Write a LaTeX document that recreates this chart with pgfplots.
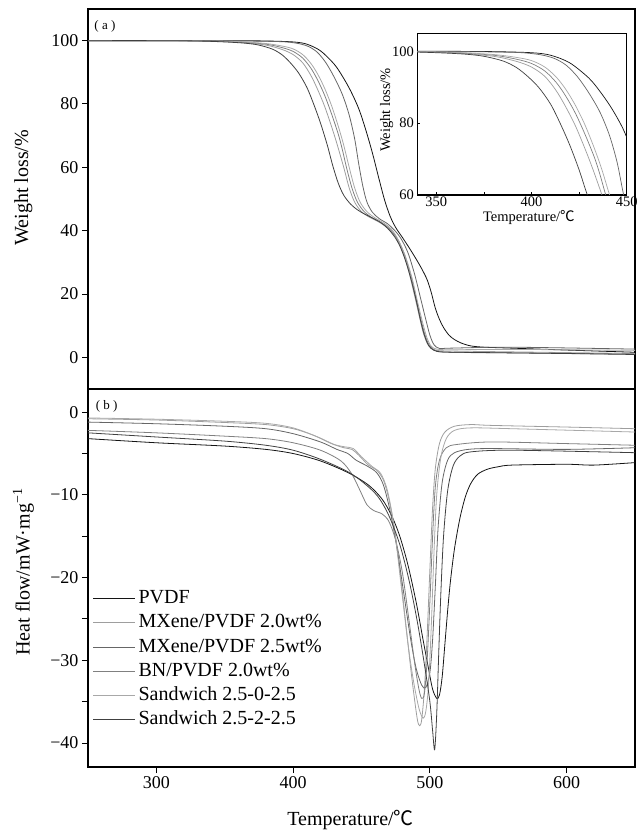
\documentclass[border=0pt]{standalone}
\usepackage{fontspec}
\setmainfont{Liberation Serif}
\newfontfamily\cjk{Noto Sans CJK SC}
\usepackage{pgfplots}
\pgfplotsset{compat=1.18}
\usepackage{pgfplotstable}

\definecolor{cP}{gray}{0.08}
\definecolor{cM20}{gray}{0.62}
\definecolor{cM25}{gray}{0.40}
\definecolor{cBN}{gray}{0.50}
\definecolor{cS0}{gray}{0.66}
\definecolor{cS2}{gray}{0.25}

% ---------------- TGA data ----------------
\pgfplotstableread{
T W
250 100
300 100
350 100
380 99.9
400 99.6
410 98.9
420 96.8
430 92.6
436 88.8
442 84.2
448 78.5
453 72
458 64.5
463 56
467 49.5
471 44.5
475 41
480 37.8
485 34.5
490 31
494 28
498 24.5
501 20.5
504 15.5
507 12
510 9.4
514 7
518 5.6
523 4.5
530 3.6
540 3.2
560 2.9
600 2.3
650 1.6
}\tgaP

\pgfplotstableread{
T W
250 100
300 100
340 99.8
360 99.5
380 98.6
392 97.2
400 95.6
407 93
413 89
418 84.5
423 79.3
428 73
432 67.5
437 60
441 53.5
445 49
450 46
456 44.2
462 42.9
468 41.2
474 38.6
479 34.5
484 28
488 21
492 13.5
495 8
498 4.5
501 2.8
507 2.1
530 1.9
600 1.5
650 1.2
}\tgaMa

\pgfplotstableread{
T W
250 100
300 100
360 99.9
380 99.8
395 99.6
405 99
412 98
418 96.2
424 93
430 88.5
436 83
441 76.5
445 69
448 61
451 54
454 49
458 45.8
463 43.8
469 42.2
474 40.2
479 37.4
484 33
489 26
493 19
497 12
500 7
503 4
507 2.8
515 2.9
560 3.2
650 2.6
}\tgaMb

\pgfplotstableread{
T W
250 100
300 100
340 99.9
360 99.6
380 98.9
392 97.8
400 96.6
407 94.5
413 91.3
418 87.5
423 82.8
428 77
433 70.5
436 65.6
439 60
443 53.5
447 49
452 46
458 44
464 42.6
470 40.8
476 37.6
481 33
486 26
490 18.5
494 11
497 6.3
500 3.6
504 2.2
512 1.6
560 1.4
650 1.0
}\tgaBN

\pgfplotstableread{
T W
250 100
300 100
340 99.9
360 99.7
380 99.1
392 98.3
400 97.4
407 95.6
413 92.8
418 89.4
423 85
428 79.6
433 73
437 67
441 60
445 53.5
449 49
454 46
460 44
466 42.5
472 40.4
477 37
482 32
487 25
491 17.5
495 10.5
498 6
501 3.5
505 2.6
515 2.4
560 2.5
650 2.2
}\tgaSa

\pgfplotstableread{
T W
250 100
300 100
330 99.9
350 99.6
365 99.2
375 98.6
385 97.3
392 95.5
398 93
404 89.8
410 85.3
415 80
420 74
425 67
429 60.5
433 55
437 51.2
442 48.4
447 46.6
452 45.3
458 44
464 42.6
469 40.8
474 38.2
478 35.2
482 30.8
486 25
490 18
493 12
496 7
499 3.8
503 2.2
510 1.7
540 1.5
600 1.2
650 0.9
}\tgaSb

% ---------------- DSC data ----------------
\pgfplotstableread{
T H
250 -3.2
300 -3.7
350 -4.1
380 -4.5
400 -5.0
420 -5.9
440 -7.3
455 -8.8
465 -10.5
472 -12.5
478 -15
484 -18.5
490 -23
495 -27.5
499 -31
502 -33.5
505 -34.6
507 -34.2
509 -32
511 -28
513 -24
515 -20.5
518 -16.5
522 -12.8
526 -10.2
530 -8.6
535 -7.5
542 -6.9
550 -6.6
560 -6.4
600 -6.3
620 -6.4
650 -6.1
}\dscP

\pgfplotstableread{
T H
250 -0.8
300 -0.95
350 -1.25
380 -1.5
400 -2.0
415 -2.8
428 -3.8
437 -4.3
443 -4.5
448 -5.2
455 -6.4
461 -7.0
466 -8.2
470 -10.5
474 -14
478 -19
482 -25
486 -31
489 -35
491 -37.3
492.5 -37.9
494 -37.2
496 -33.5
498 -27
500 -19
502 -11.5
504 -6.8
507 -3.8
511 -2.4
518 -1.7
530 -1.5
545 -1.6
600 -1.8
650 -2.0
}\dscMa

\pgfplotstableread{
T H
250 -1.2
300 -1.4
350 -1.7
380 -2.0
400 -2.6
420 -3.6
432 -4.5
440 -5.0
446 -5.8
454 -6.5
461 -7.3
466 -8.8
471 -12
476 -16.5
481 -22
486 -27.5
490 -31
494 -33
497 -33.3
500 -31.5
502 -27.5
504 -21
506 -14
509 -8.5
513 -5.8
518 -4.9
528 -4.5
545 -4.4
600 -4.5
650 -4.3
}\dscMb

\pgfplotstableread{
T H
250 -2.2
300 -2.5
350 -2.9
380 -3.2
400 -3.7
420 -4.6
435 -5.9
443 -7.5
449 -9.5
454 -11.2
459 -11.9
465 -12.3
470 -13.2
475 -15.5
480 -19.5
485 -25.5
489 -30.5
492 -33.5
494 -34.6
496 -34
498 -30
500 -23
502 -15
504 -9
507 -5.8
512 -4.3
520 -3.9
545 -3.6
600 -3.8
650 -4.0
}\dscBN

\pgfplotstableread{
T H
250 -0.7
300 -0.85
350 -1.1
380 -1.35
400 -1.9
418 -3.0
430 -3.9
438 -4.2
444 -4.4
450 -5.4
458 -6.6
464 -7.4
469 -9.5
474 -14
479 -21
484 -28
488 -32.5
492 -35.8
495 -37
497 -36.2
499 -33
501 -26
503 -17
505 -10
508 -5.5
512 -3.2
518 -2.2
530 -1.9
560 -2.0
650 -2.4
}\dscSa

\pgfplotstableread{
T H
250 -2.5
300 -3.0
350 -3.5
380 -4.0
400 -4.6
420 -5.7
440 -7.2
452 -8.6
462 -10.2
470 -12.5
478 -16
485 -20.5
491 -25.5
496 -30.5
500 -35
502 -38.5
503.5 -40.8
505 -36.5
506.5 -29
508 -22
510 -15
513 -9.5
517 -6.5
522 -5.3
530 -4.8
560 -4.6
650 -4.9
}\dscSb

\pgfplotsset{
  curve/.style={line width=0.8pt, smooth, tension=0.5, no markers},
}

\begin{document}
\begin{tikzpicture}
\path[use as bounding box] (0pt,0pt) rectangle (640pt,-832pt);

% ---------------- top: TGA ----------------
\begin{axis}[
  at={(88pt,-9pt)}, anchor=north west,
  scale only axis, width=547pt, height=380pt,
  xmin=250, xmax=650, ymin=-10, ymax=110,
  xtick=\empty,
  ytick={0,20,40,60,80,100},
  ytick pos=left,
  tick align=outside,
  major tick length=6pt,
  axis line style={line width=1.2pt},
  every tick/.style={line width=1pt, black},
  tick label style={font=\fontsize{18}{20}\selectfont},
  /pgf/number format/assume math mode=true,
  ylabel={Weight loss/\%},
  ylabel style={font=\fontsize{20}{24}\selectfont, at={(axis description cs:-0.118,0.53)}, anchor=center, rotate=0},
]
\addplot[curve, cP] table {\tgaP};
\addplot[curve, cM20] table {\tgaMa};
\addplot[curve, cM25] table {\tgaMb};
\addplot[curve, cBN] table {\tgaBN};
\addplot[curve, cS0] table {\tgaSa};
\addplot[curve, cS2] table {\tgaSb};
\node[font=\fontsize{13}{15}\selectfont] at (axis description cs:0.031,0.955) {( a )};
\end{axis}

% ---------------- inset ----------------
\begin{axis}[
  at={(417.3pt,-33.3pt)}, anchor=north west,
  scale only axis, width=209.4pt, height=161.7pt,
  xmin=340, xmax=450, ymin=60, ymax=105,
  xtick={350,400,450},
  minor xtick={375,425},
  ytick={60,80,100},
  xtick pos=bottom, ytick pos=left,
  tick align=inside,
  major tick length=3pt, minor tick length=3pt,
  axis line style={line width=1.5pt},
  axis background/.style={fill=white},
  every tick/.style={line width=0.8pt, black},
  tick label style={font=\fontsize{14.5}{16}\selectfont},
  xticklabel style={yshift=2pt},
  /pgf/number format/assume math mode=true,
  ylabel={Weight loss/\%},
  ylabel style={font=\fontsize{14.5}{16}\selectfont, at={(axis description cs:-0.146,0.526)}, anchor=center},
  xlabel={Temperature/{\cjk ℃}},
  xlabel style={font=\fontsize{14.5}{16}\selectfont, at={(axis description cs:0.533,-0.142)}, anchor=center},
]
\addplot[curve, line width=0.7pt, cP] table {\tgaP};
\addplot[curve, line width=0.7pt, cM20] table {\tgaMa};
\addplot[curve, line width=0.7pt, cM25] table {\tgaMb};
\addplot[curve, line width=0.7pt, cBN] table {\tgaBN};
\addplot[curve, line width=0.7pt, cS0] table {\tgaSa};
\addplot[curve, line width=0.7pt, cS2] table {\tgaSb};
\end{axis}

% ---------------- bottom: DSC ----------------
\begin{axis}[
  at={(88pt,-389pt)}, anchor=north west,
  scale only axis, width=547pt, height=378pt,
  xmin=250, xmax=650, ymin=-42.9, ymax=2.8,
  xtick={300,400,500,600},
  ytick={-40,-30,-20,-10,0},
  yticklabels={−40,−30,−20,−10,0},
  minor ytick={-35,-25,-15,-5},
  xtick pos=bottom, ytick pos=left,
  tick align=outside,
  major tick length=6pt, minor tick length=6pt,
  axis line style={line width=1.2pt},
  every tick/.style={line width=1pt, black},
  tick label style={font=\fontsize{18}{20}\selectfont},
  /pgf/number format/assume math mode=true,
  ylabel={Heat flow/mW·mg\textsuperscript{−1}},
  ylabel style={font=\fontsize{20}{24}\selectfont, at={(axis description cs:-0.118,0.516)}, anchor=center},
  xlabel={Temperature/{\cjk ℃}},
  xlabel style={font=\fontsize{20}{24}\selectfont, at={(axis description cs:0.48,-0.14)}, anchor=center},
  legend style={draw=none, fill=none, at={(axis description cs:0.008,0.478)}, anchor=north west,
    font=\fontsize{20}{22}\selectfont, inner sep=0pt,
    nodes={text height=14.2pt, text depth=4pt, inner sep=3pt}},
  legend cell align=left,
  legend image code/.code={\draw[#1, line width=1pt] (0pt,0pt) -- (42pt,0pt);},
]
\addplot[curve, cP] table {\dscP};
\addlegendentry{PVDF}
\addplot[curve, cM20] table {\dscMa};
\addlegendentry{MXene/PVDF 2.0wt\%}
\addplot[curve, cM25] table {\dscMb};
\addlegendentry{MXene/PVDF 2.5wt\%}
\addplot[curve, cBN] table {\dscBN};
\addlegendentry{BN/PVDF 2.0wt\%}
\addplot[curve, cS0] table {\dscSa};
\addlegendentry{Sandwich 2.5-0-2.5}
\addplot[curve, cS2] table {\dscSb};
\addlegendentry{Sandwich 2.5-2-2.5}
\node[font=\fontsize{13}{15}\selectfont] at (axis description cs:0.034,0.955) {( b )};
\end{axis}
\end{tikzpicture}
\end{document}
